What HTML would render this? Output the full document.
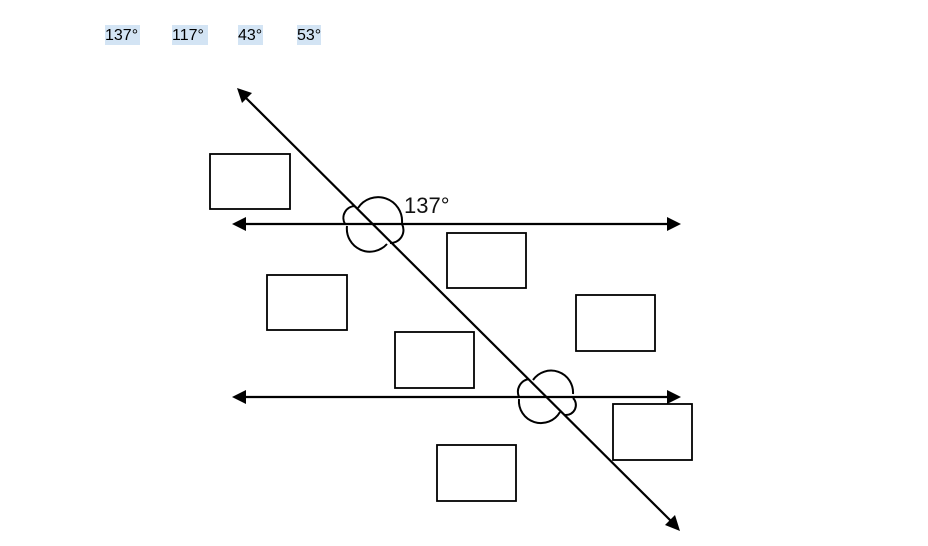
<!DOCTYPE html>
<html>
<head>
<meta charset="utf-8">
<style>
html,body{margin:0;padding:0;background:#fff;}
body{width:928px;height:546px;overflow:hidden;position:relative;font-family:"Liberation Sans",sans-serif;}
.l{position:absolute;top:25px;height:20px;line-height:21px;font-size:16px;background:#d3e4f4;color:#000;white-space:nowrap;text-align:left;}
svg{position:absolute;left:0;top:0;}
</style>
</head>
<body>
<div class="l" style="left:105px;width:35px">137°</div>
<div class="l" style="left:172px;width:36px">117°</div>
<div class="l" style="left:238px;width:25px">43°</div>
<div class="l" style="left:297px;width:24px">53°</div>
<svg width="928" height="546" viewBox="0 0 928 546">
<g fill="none" stroke="#000" stroke-width="1.8">
<rect x="210" y="154" width="80" height="55"/>
<rect x="267" y="275" width="80" height="55"/>
<rect x="447" y="233" width="79" height="55"/>
<rect x="576" y="295" width="79" height="56"/>
<rect x="395" y="332" width="79" height="56"/>
<rect x="613" y="404" width="79" height="56"/>
<rect x="437" y="445" width="79" height="56"/>
</g>
<g fill="none" stroke="#000" stroke-width="2.2">
<line x1="245" y1="97" x2="672" y2="522"/>
<line x1="244" y1="224" x2="670" y2="224"/>
<line x1="244" y1="397" x2="670" y2="397"/>
</g>
<g fill="#000">
<polygon points="237,88 252,93 242,103"/>
<polygon points="680,531 675,515 665,525"/>
<polygon points="232,224 246,217 246,231"/>
<polygon points="681,224 667,217 667,231"/>
<polygon points="232,397 246,390 246,404"/>
<polygon points="681,397 667,390 667,404"/>
</g>
<g fill="none" stroke="#000" stroke-width="2">
<path d="M358,208 A24,24 0 0 1 402,223"/>
<path d="M402,224 A13,13 0 0 1 390,243"/>
<path d="M387,244 A23,23 0 0 1 347,226"/>
<path d="M345,224 A12,12 0 0 1 355,206"/>
<path d="M533,380 A22,22 0 0 1 573,394"/>
<path d="M573,398 A10,10 0 0 1 565,415"/>
<path d="M560,412 A22,22 0 0 1 519,399"/>
<path d="M519,397 A13,13 0 0 1 529,379"/>
</g>
<text x="404" y="213" font-family="Liberation Sans, sans-serif" font-size="22" fill="#111">137°</text>
</svg>
</body>
</html>
